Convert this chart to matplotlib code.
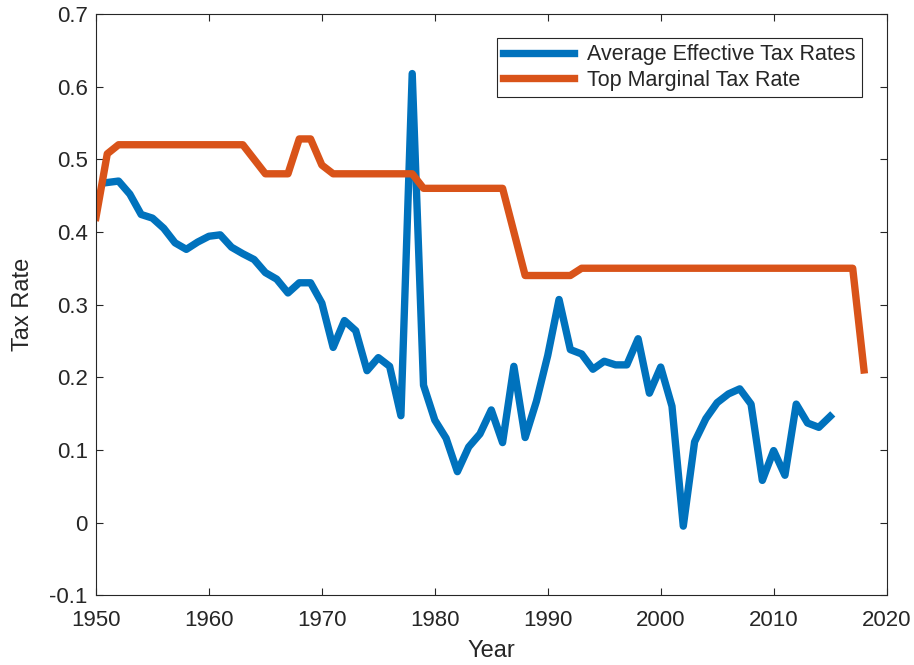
import matplotlib.pyplot as plt

plt.rcParams["font.family"] = ["Liberation Sans", "DejaVu Sans"]

# Average effective tax rates
eff_years = list(range(1951, 2016))
eff_rates = [0.468, 0.470, 0.452, 0.424, 0.419, 0.405, 0.385, 0.376, 0.386, 0.394,
             0.396, 0.379, 0.370, 0.362, 0.344, 0.335, 0.316, 0.330, 0.330, 0.302,
             0.241, 0.278, 0.264, 0.209, 0.227, 0.215, 0.147, 0.618, 0.189, 0.141,
             0.116, 0.070, 0.104, 0.122, 0.155, 0.110, 0.215, 0.117, 0.167, 0.230,
             0.307, 0.238, 0.232, 0.211, 0.222, 0.217, 0.217, 0.253, 0.178, 0.214,
             0.160, -0.005, 0.111, 0.143, 0.165, 0.177, 0.184, 0.163, 0.058, 0.099,
             0.065, 0.163, 0.137, 0.131, 0.146]

# Top marginal tax rate
top_years = list(range(1950, 2019))
top_rates = ([0.42, 0.5075] + [0.52] * 12 + [0.50] + [0.48] * 3 + [0.528] * 2 + [0.492]
             + [0.48] * 8 + [0.46] * 8 + [0.40] + [0.34] * 5 + [0.35] * 25 + [0.21])

yticks = [-0.1, 0, 0.1, 0.2, 0.3, 0.4, 0.5, 0.6, 0.7]
ytick_labels = ["-0.1", "0", "0.1", "0.2", "0.3", "0.4", "0.5", "0.6", "0.7"]
xticks = [1950, 1960, 1970, 1980, 1990, 2000, 2010, 2020]

dark = "#262626"

fig = plt.figure(figsize=(9.14, 6.65), dpi=100)
ax = fig.add_axes([0.105, 0.105, 0.865, 0.874])

ax.plot(eff_years, eff_rates, color="#0072BD", linewidth=5.3,
        solid_joinstyle="round", label="Average Effective Tax Rates")
ax.plot(top_years, top_rates, color="#D95319", linewidth=5.3,
        solid_joinstyle="round", label="Top Marginal Tax Rate")

ax.set_xlim(1950, 2020)
ax.set_ylim(-0.1, 0.7)
ax.set_xticks(xticks)
ax.set_yticks(yticks)
ax.set_yticklabels(ytick_labels)

ax.tick_params(direction="in", length=5, width=0.8, top=True, right=True,
               labelsize=16, colors=dark, pad=6)
ax.tick_params(axis="x", pad=11)
for sp in ax.spines.values():
    sp.set_color(dark)
    sp.set_linewidth(0.8)

ax.set_xlabel("Year", fontsize=17, color=dark, labelpad=6)
ax.set_ylabel("Tax Rate", fontsize=17, color=dark, labelpad=11)

leg = ax.legend(loc="upper right", bbox_to_anchor=(0.969, 0.959), borderaxespad=0,
                fontsize=15.5, handlelength=3.3, handletextpad=0.6, borderpad=0.3,
                labelspacing=0.2, fancybox=False, framealpha=1)
leg.get_frame().set_edgecolor(dark)
leg.get_frame().set_linewidth(0.8)
for t in leg.get_texts():
    t.set_color(dark)

fig.savefig("out.png", dpi=100)
plt.close()
